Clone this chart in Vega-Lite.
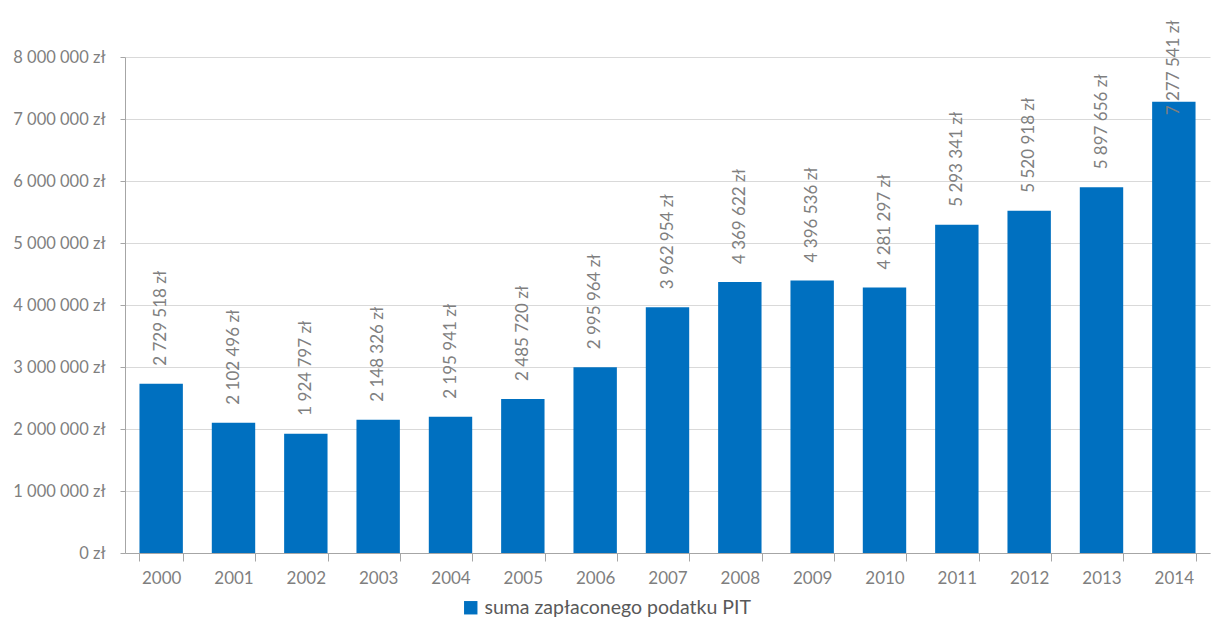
{
  "$schema": "https://vega.github.io/schema/vega-lite/v6.json",
  "width": 1085,
  "height": 496,
  "autosize": {"type": "none"},
  "padding": {"left": 125, "top": 57, "right": 7, "bottom": 68},
  "background": "white",
  "data": {"values": [
    {"year": "2000", "value": 2729518, "series": "suma zapłaconego podatku PIT"},
    {"year": "2001", "value": 2102496, "series": "suma zapłaconego podatku PIT"},
    {"year": "2002", "value": 1924797, "series": "suma zapłaconego podatku PIT"},
    {"year": "2003", "value": 2148326, "series": "suma zapłaconego podatku PIT"},
    {"year": "2004", "value": 2195941, "series": "suma zapłaconego podatku PIT"},
    {"year": "2005", "value": 2485720, "series": "suma zapłaconego podatku PIT"},
    {"year": "2006", "value": 2995964, "series": "suma zapłaconego podatku PIT"},
    {"year": "2007", "value": 3962954, "series": "suma zapłaconego podatku PIT"},
    {"year": "2008", "value": 4369622, "series": "suma zapłaconego podatku PIT"},
    {"year": "2009", "value": 4396536, "series": "suma zapłaconego podatku PIT"},
    {"year": "2010", "value": 4281297, "series": "suma zapłaconego podatku PIT"},
    {"year": "2011", "value": 5293341, "series": "suma zapłaconego podatku PIT"},
    {"year": "2012", "value": 5520918, "series": "suma zapłaconego podatku PIT"},
    {"year": "2013", "value": 5897656, "series": "suma zapłaconego podatku PIT"},
    {"year": "2014", "value": 7277541, "series": "suma zapłaconego podatku PIT"}
  ]},
  "encoding": {
    "x": {
      "field": "year", "type": "ordinal",
      "scale": {"paddingInner": 0.4, "paddingOuter": 0.2},
      "axis": {
        "title": null, "labelAngle": 0, "labelFont": "Lato", "labelFontSize": 17,
        "labelColor": "#7f7f7f", "labelPadding": 9, "domainColor": "#a6a6a6",
        "tickColor": "#a6a6a6", "tickSize": 8, "tickBand": "extent", "grid": false
      }
    }
  },
  "layer": [
    {
      "mark": {"type": "bar", "color": "#0070C0"},
      "encoding": {
        "y": {
          "field": "value", "type": "quantitative",
          "scale": {"domain": [0, 8000000], "nice": false},
          "axis": {
            "title": null, "values": [0,1000000,2000000,3000000,4000000,5000000,6000000,7000000,8000000],
            "labelExpr": "replace(format(datum.value, ',.0f'), regexp(',', 'g'), ' ') + ' zł'",
            "labelFont": "Lato", "labelFontSize": 16.5, "labelColor": "#7f7f7f",
            "labelPadding": 15, "labelOverlap": false, "domain": true, "domainColor": "#a6a6a6",
            "tickColor": "#a6a6a6", "tickSize": 5, "gridColor": "#d9d9d9"
          }
        },
        "color": {
          "field": "series", "type": "nominal",
          "scale": {"range": ["#0070C0"]},
          "legend": {
            "title": null, "orient": "none", "legendX": 336, "legendY": 541, "direction": "horizontal",
            "symbolType": "square", "symbolSize": 180, "symbolStrokeWidth": 0,
            "labelFont": "Lato", "labelFontSize": 19.5, "labelColor": "#595959", "labelLimit": 0
          }
        }
      }
    },
    {
      "transform": [
        {"calculate": "min(datum.value, 6770000)", "as": "labelpos"},
        {"calculate": "replace(format(datum.value, ',.0f'), regexp(',', 'g'), ' ') + ' zł'", "as": "label"}
      ],
      "mark": {"type": "text", "angle": 270, "align": "left", "baseline": "middle", "dx": 18,
               "font": "Lato", "fontSize": 17, "color": "#7f7f7f"},
      "encoding": {
        "y": {
          "field": "labelpos", "type": "quantitative",
          "axis": {
            "title": null, "values": [0,1000000,2000000,3000000,4000000,5000000,6000000,7000000,8000000],
            "labelExpr": "replace(format(datum.value, ',.0f'), regexp(',', 'g'), ' ') + ' zł'",
            "labelFont": "Lato", "labelFontSize": 16.5, "labelColor": "#7f7f7f",
            "labelPadding": 15, "labelOverlap": false, "domain": true, "domainColor": "#a6a6a6",
            "tickColor": "#a6a6a6", "tickSize": 5, "gridColor": "#d9d9d9"
          }
        },
        "text": {"field": "label", "type": "nominal"}
      }
    }
  ],
  "config": {
    "view": {"stroke": null}
  }
}
